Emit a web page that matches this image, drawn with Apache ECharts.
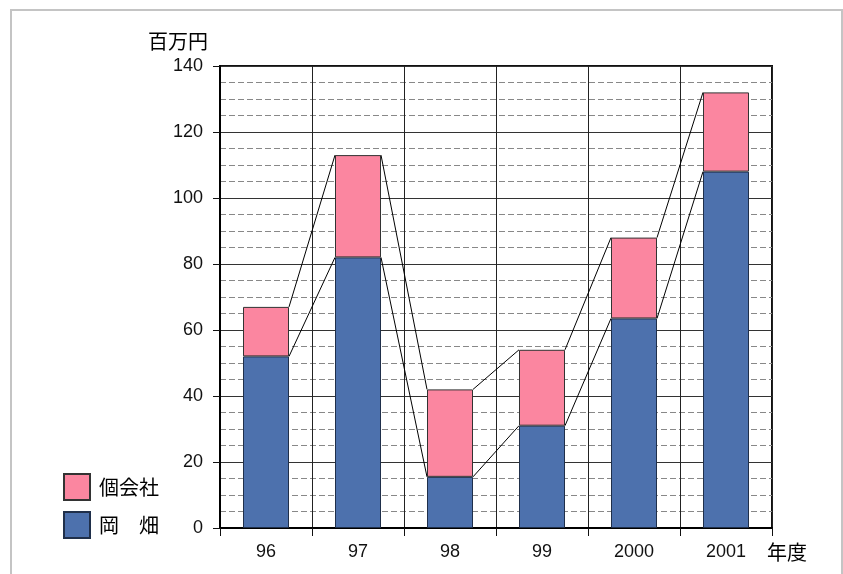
<!DOCTYPE html>
<html>
<head>
<meta charset="utf-8">
<script src="https://cdn.jsdelivr.net/npm/echarts@6/dist/echarts.min.js"></script>
<style>
  html, body { margin: 0; padding: 0; background: #fff; }
  #frame {
    position: absolute; left: 10px; top: 9px; width: 829px; height: 600px;
    border-left: 2px solid #c4c4c4; border-top: 2px solid #c4c4c4; border-right: 2px solid #c4c4c4;
  }
  #chart { position: absolute; left: 0; top: 0; width: 843px; height: 574px; }
</style>
</head>
<body>
<div id="frame"></div>
<div id="chart"></div>
<script>
// 年度
const years = ['96', '97', '98', '99', '2000', '2001']
// 岡 畑（下段）
const okahata = [52, 82, 15.5, 31, 63.5, 108]
// 個会社（上段）
const kogaisha = [15, 31, 26.5, 23, 24.5, 24]
const yTicks = { min: 0, max: 140, interval: 20 }

const totals = okahata.map((v, i) => v + kogaisha[i])

// 棒の上端どうしを結ぶ線
const linkData = (vals) => vals.slice(0, -1).map((v, i) => [i, v, vals[i + 1]])

const renderLink = (params, api) => {
  const i = api.value(0)
  const half = api.size([1, 0])[0] * 0.25
  const p1 = api.coord([i, api.value(1)])
  const p2 = api.coord([i + 1, api.value(2)])
  return {
    type: 'line',
    shape: { x1: p1[0] + half, y1: p1[1], x2: p2[0] - half, y2: p2[1] },
    style: { stroke: '#000', lineWidth: 1 }
  }
}

const fontLatin = 'Liberation Sans, Arial, sans-serif'
const fontJp = 'Noto Sans CJK JP, sans-serif'

const chart = echarts.init(document.getElementById('chart'))
chart.setOption({
  animation: false,
  grid: { left: 220, right: 71, top: 66, bottom: 46, show: true, borderColor: '#111', borderWidth: 2 },
  legend: {
    orient: 'vertical', left: 58, top: 468,
    data: ['個会社', '岡　畑'],
    icon: 'rect', itemWidth: 26, itemHeight: 26, itemGap: 10,
    textStyle: { fontFamily: fontJp, fontSize: 20, color: '#000', padding: [0, 0, 0, 4] }
  },
  xAxis: {
    type: 'category',
    data: years,
    name: '年度',
    nameLocation: 'end',
    nameGap: -5,
    nameTextStyle: { fontFamily: fontJp, fontSize: 20, color: '#000', verticalAlign: 'top', padding: [14, 0, 0, 0] },
    axisLine: { lineStyle: { color: '#000', width: 2 } },
    axisTick: { show: true, length: 8, lineStyle: { color: '#111' } },
    axisLabel: { fontFamily: fontLatin, fontSize: 18, color: '#111', margin: 15 },
    splitLine: { show: true, lineStyle: { color: '#222', width: 1 } }
  },
  yAxis: {
    type: 'value',
    min: yTicks.min, max: yTicks.max, interval: yTicks.interval,
    name: '百万円',
    nameLocation: 'end',
    nameGap: 15,
    nameTextStyle: { fontFamily: fontJp, fontSize: 20, color: '#000', align: 'right', padding: [0, 12, 0, 0] },
    axisLine: { show: true, lineStyle: { color: '#000', width: 2 } },
    axisTick: { show: true, length: 7, lineStyle: { color: '#111' } },
    axisLabel: { fontFamily: fontLatin, fontSize: 18, color: '#111', margin: 17 },
    splitLine: { show: true, lineStyle: { color: '#333', width: 1 } },
    minorTick: { show: false, splitNumber: 4 },
    minorSplitLine: { show: true, lineStyle: { color: '#888', width: 1, type: [6, 3] } }
  },
  series: [
    {
      name: '岡　畑', type: 'bar', stack: 'total', barWidth: '50%',
      data: okahata,
      itemStyle: { color: '#4d71ad', borderColor: '#1f2f4a', borderWidth: 1 },
      z: 3
    },
    {
      name: '個会社', type: 'bar', stack: 'total', barWidth: '50%',
      data: kogaisha,
      itemStyle: { color: '#fb86a0', borderColor: '#333', borderWidth: 1 },
      z: 3
    },
    {
      type: 'custom', renderItem: renderLink, data: linkData(okahata),
      encode: { x: 0, y: [1, 2] }, z: 4, silent: true
    },
    {
      type: 'custom', renderItem: renderLink, data: linkData(totals),
      encode: { x: 0, y: [1, 2] }, z: 4, silent: true
    }
  ]
})
</script>
</body>
</html>
